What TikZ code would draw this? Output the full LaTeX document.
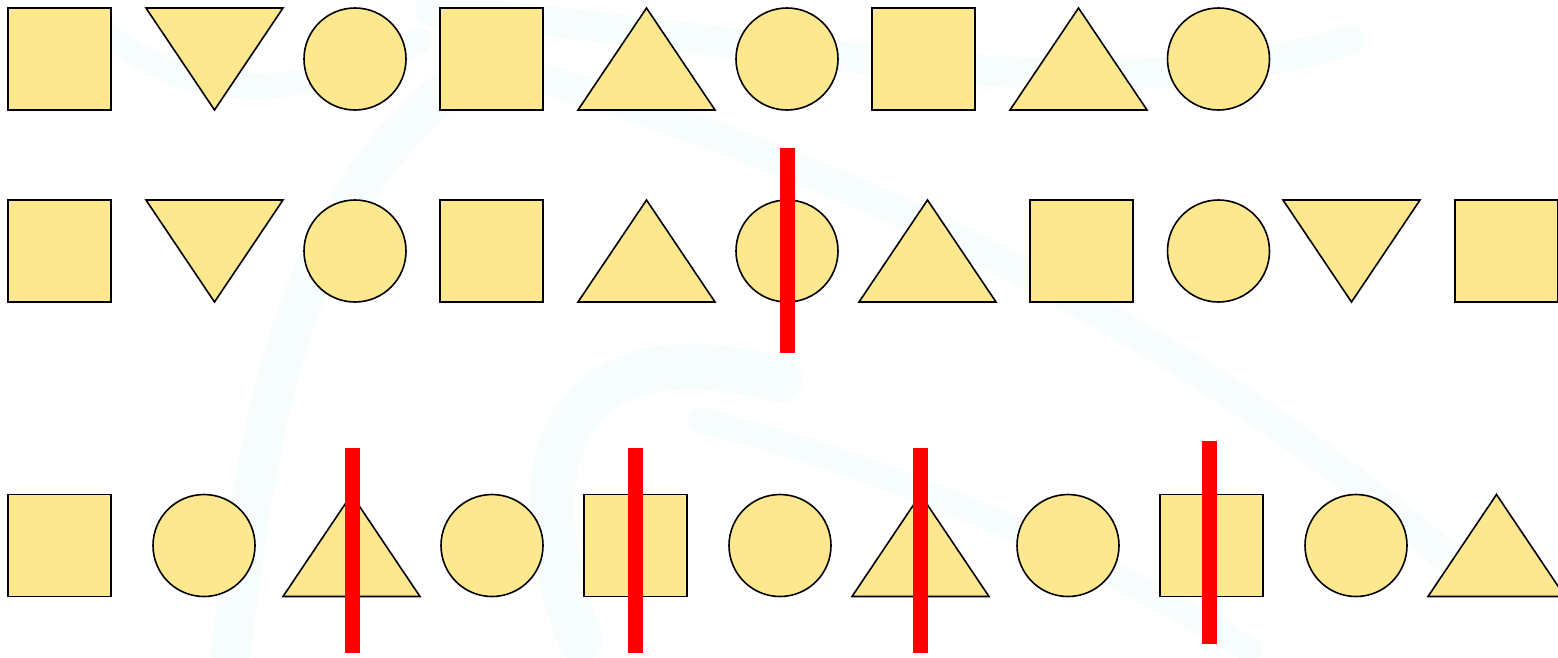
\documentclass[tikz,border=0pt]{standalone}
\definecolor{shapefill}{RGB}{253,231,143}
\definecolor{barred}{RGB}{255,0,0}
\definecolor{wmark}{RGB}{238,249,251}
\tikzset{
  x=1pt,y=-1pt,
  shapeline/.style={draw=black,line width=1.6pt,fill=shapefill,line join=miter},
  wmstroke/.style={draw=wmark,line cap=round,opacity=0.45},
  barstyle/.style={fill=barred,draw=none},
  sqr/.pic={\path[shapeline] (-51.5,-51) rectangle (51.5,51);},
  circ/.pic={\path[shapeline] (0,0) circle[radius=51];},
  triup/.pic={\path[shapeline] (0,-51) -- (68.5,51) -- (-68.5,51) -- cycle;},
  tridn/.pic={\path[shapeline] (0,51) -- (68.5,-51) -- (-68.5,-51) -- cycle;}
}
\begin{document}
\begin{tikzpicture}
\useasboundingbox (0,0) rectangle (1558,657);
\fill[white] (0,0) rectangle (1558,657);
\clip (0,0) rectangle (1558,657);
% faint background watermark
\draw[wmstroke,line width=40] (230,660) .. controls (260,400) and (300,200) .. (460,80);
\draw[wmstroke,line width=25] (90,20) .. controls (200,120) and (320,90) .. (420,40);
\draw[wmstroke,line width=30] (480,60) .. controls (800,150) and (1150,300) .. (1450,560);
\draw[wmstroke,line width=30] (430,10) .. controls (800,40) and (1100,120) .. (1350,40);
\draw[wmstroke,line width=45] (780,380) .. controls (600,330) and (500,420) .. (580,640);
\draw[wmstroke,line width=25] (700,420) .. controls (900,470) and (1100,560) .. (1250,650);
% row 1
\pic (r1a) at (59.5,59) {sqr};
\pic (r1b) at (214.5,59) {tridn};
\pic (r1c) at (355,59) {circ};
\pic (r1d) at (491.5,59) {sqr};
\pic (r1e) at (646.5,59) {triup};
\pic (r1f) at (787,59) {circ};
\pic (r1g) at (923.5,59) {sqr};
\pic (r1h) at (1078.5,59) {triup};
\pic (r1i) at (1218.5,59) {circ};
% row 2
\pic (r2a) at (59.5,251) {sqr};
\pic (r2b) at (214.5,251) {tridn};
\pic (r2c) at (355,251) {circ};
\pic (r2d) at (491.5,251) {sqr};
\pic (r2e) at (646.5,251) {triup};
\pic (r2f) at (787,251) {circ};
\pic (r2g) at (927.5,251) {triup};
\pic (r2h) at (1081.5,251) {sqr};
\pic (r2i) at (1218.5,251) {circ};
\pic (r2j) at (1351.5,251) {tridn};
\pic (r2k) at (1506.5,251) {sqr};
% row 3
\pic (r3a) at (59.5,545.5) {sqr};
\pic (r3b) at (204,545.5) {circ};
\pic (r3c) at (351.5,545.5) {triup};
\pic (r3d) at (492,545.5) {circ};
\pic (r3e) at (635.5,545.5) {sqr};
\pic (r3f) at (780,545.5) {circ};
\pic (r3g) at (920.5,545.5) {triup};
\pic (r3h) at (1068,545.5) {circ};
\pic (r3i) at (1211.5,545.5) {sqr};
\pic (r3j) at (1356,545.5) {circ};
\pic (r3k) at (1496.5,545.5) {triup};
% red bars
\path[barstyle] (779.5,148) rectangle (794.5,353);
\path[barstyle] (344.5,448) rectangle (359.5,653);
\path[barstyle] (628,448) rectangle (643,653);
\path[barstyle] (913,448) rectangle (928,653);
\path[barstyle] (1202,441) rectangle (1217,644);
\end{tikzpicture}
\end{document}
